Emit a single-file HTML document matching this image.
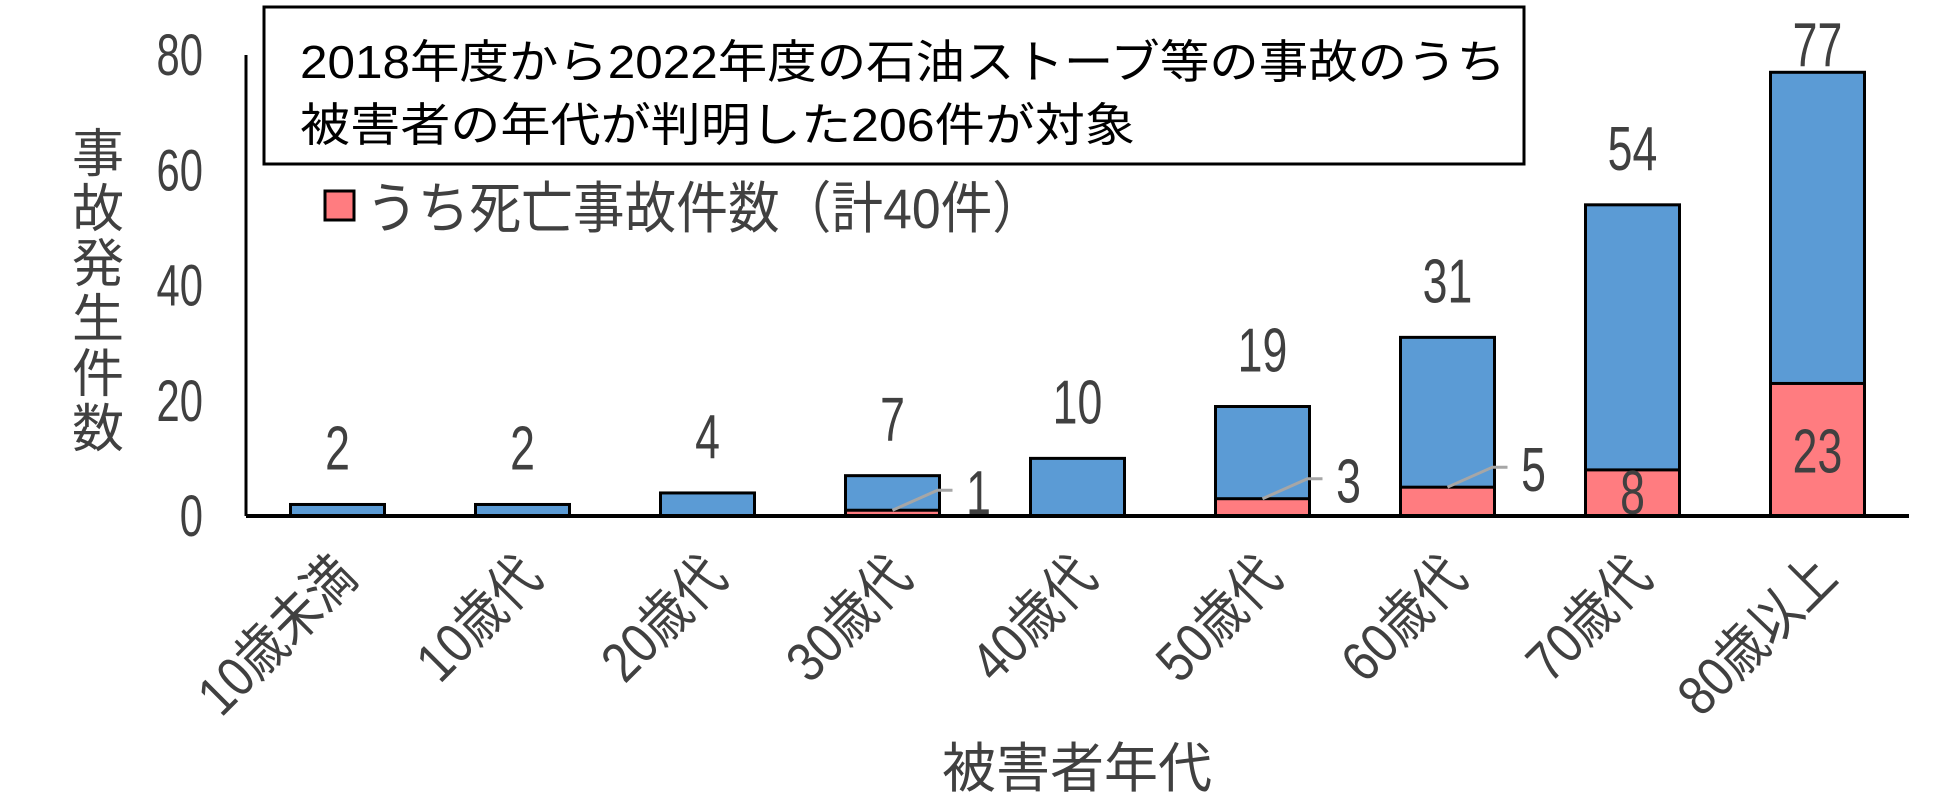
<!DOCTYPE html>
<html><head><meta charset="utf-8"><style>
html,body{margin:0;padding:0;background:#fff}
svg{display:block}
text{font-family:"Liberation Sans Narrow","Liberation Sans","Noto Sans CJK JP",sans-serif;fill:#404040}
</style></head><body>
<svg id="chart" width="1949" height="805" viewBox="0 0 1949 805" xmlns="http://www.w3.org/2000/svg">
<g id="plot"></g>
<rect x="264" y="7" width="1260" height="157" fill="#fff" stroke="#000" stroke-width="3"/>
<text x="300" y="78" font-size="46" style="fill:#000" textLength="1206" lengthAdjust="spacingAndGlyphs">2018年度から2022年度の石油ストーブ等の事故のうち</text>
<text x="300" y="141" font-size="46" style="fill:#000" textLength="835" lengthAdjust="spacingAndGlyphs">被害者の年代が判明した206件が対象</text>
<rect x="325" y="191" width="29" height="29" fill="#FF7C80" stroke="#000" stroke-width="3"/>
<text x="366" y="228" font-size="56" textLength="678" lengthAdjust="spacingAndGlyphs">うち死亡事故件数（計40件）</text>
<text font-size="52" text-anchor="middle">
<tspan x="98" y="172">事</tspan><tspan x="98" y="227">故</tspan><tspan x="98" y="282">発</tspan><tspan x="98" y="337">生</tspan><tspan x="98" y="392">件</tspan><tspan x="98" y="447">数</tspan>
</text>
<text x="1077" y="787" font-size="54" text-anchor="middle">被害者年代</text>
</svg>
<script>
const categories=["10歳未満","10歳代","20歳代","30歳代","40歳代","50歳代","60歳代","70歳代","80歳以上"];
const totals=[2,2,4,7,10,19,31,54,77];
const fatal=[0,0,0,1,0,3,5,8,23];
const yTicks=[0,20,40,60,80];
const NS="http://www.w3.org/2000/svg";
const g=document.getElementById('plot');
const x0=246,x1=1909,y0=516,yTop=55,yMax=80;
const step=185,first=337.5,bw=94;
function y(v){return y0-(y0-yTop)*v/yMax;}
function xc(i){return first+i*step;}
function mk(t,a,p){const e=document.createElementNS(NS,t);for(const k in a)e.setAttribute(k,a[k]);(p||g).appendChild(e);return e;}
function ctext(x,yy,size,anchor){return mk('text',{x:0,y:0,'font-size':size,'text-anchor':anchor,transform:`translate(${x},${yy}) scale(0.72,1)`});}
yTicks.forEach(v=>{
  const t=ctext(203,y(v)+20,58,'end');
  
  
  t.textContent=v;
});
categories.forEach((c,i)=>{
  const cx=xc(i),bx=cx-bw/2;
  const b=mk('rect',{x:bx,y:y(totals[i]),width:bw,height:y0-y(totals[i]),fill:'#5B9BD5',stroke:'#000','stroke-width':3});
  
  
  if(fatal[i]>0){
    const r=mk('rect',{x:bx,y:y(fatal[i]),width:bw,height:y0-y(fatal[i]),fill:'#FF7C80',stroke:'#000','stroke-width':3});
    
    
    const inside=(y0-y(fatal[i]))>40;
    if(inside){
      const lt=ctext(cx,Math.min((y(fatal[i])+y0)/2+23,y0-2),62,'middle');
      
      
      lt.textContent=fatal[i];
    }else{
      const ly=y(fatal[i]);
      const l=mk('polyline',{points:`${cx} ${ly} ${cx+45} ${ly-20} ${cx+60} ${ly-20}`,fill:'none',stroke:'#A6A6A6','stroke-width':3});
      
      
      const lt=ctext(cx+86,ly+4,62,'middle');
      
      
      lt.textContent=fatal[i];
    }
  }
  const tt=ctext(cx,Math.max(y(totals[i])-35,66),62,'middle');
  
  
  tt.textContent=totals[i];
  const xl=mk('text',{x:0,y:0,'font-size':56,'text-anchor':'end',transform:`translate(${cx+22},${580}) rotate(-45) scale(0.85,1)`});
  
  
  xl.textContent=c;
});
const ax=mk('line',{x1:x0,y1:y0,x2:x1,y2:y0,stroke:'#000','stroke-width':4});


const ay=mk('line',{x1:x0,y1:y0,x2:x0,y2:yTop,stroke:'#000','stroke-width':3});


</script>
</body></html>
